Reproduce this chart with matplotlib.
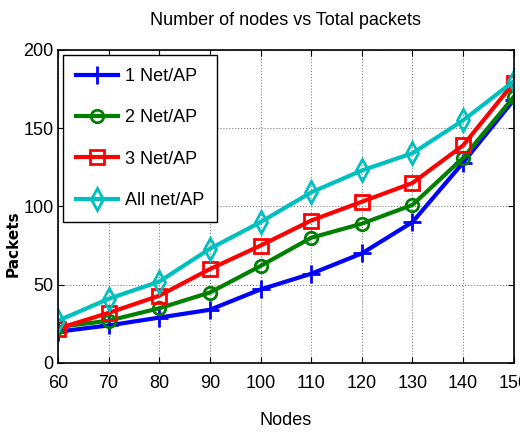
import matplotlib.pyplot as plt

# data
nodes = [60, 70, 80, 90, 100, 110, 120, 130, 140, 150]
net1 = [20, 24, 29, 34, 47, 57, 70, 90, 128, 168]
net2 = [23, 27, 35, 45, 62, 80, 89, 101, 131, 170]
net3 = [22, 32, 43, 60, 75, 91, 103, 115, 139, 179]
net_all = [27, 41, 52, 73, 90, 109, 123, 134, 155, 180]
labels = ['1 Net/AP', '2 Net/AP', '3 Net/AP', 'All net/AP']

plt.rcParams['font.family'] = ['Liberation Sans', 'DejaVu Sans']

fig = plt.figure(figsize=(5.2, 4.34), dpi=100)
ax = fig.add_axes([0.1115, 0.1636, 0.8765, 0.7214])

styles = [('b', '+', 13), ('g', 'o', 9), ('r', 's', 10), ('c', 'd', 11)]
for ys, lab, (col, mk, ms) in zip([net1, net2, net3, net_all], labels, styles):
    ax.plot(nodes, ys, color=col, marker=mk, markersize=ms, markerfacecolor='none',
            markeredgecolor=col, markeredgewidth=2, linewidth=3, label=lab)

ax.set_xlim(60, 150)
ax.set_ylim(0, 200)
ax.set_xticks(nodes)
ax.set_yticks([0, 50, 100, 150, 200])
ax.grid(True, linestyle=':', color='gray', linewidth=0.8)
ax.tick_params(direction='in', top=True, right=True, labelsize=13, length=4)
ax.tick_params(axis='x', pad=9)
ax.tick_params(axis='y', pad=3)
for s in ax.spines.values():
    s.set_linewidth(1.2)

ax.set_title('Number of nodes vs Total packets', fontsize=13, pad=18)
ax.set_xlabel('Nodes', fontsize=13, labelpad=14)
ax.set_ylabel('Packets', fontsize=11, fontweight='bold', family='DejaVu Sans')
ax.yaxis.set_label_coords(-0.083, 0.38)

leg = ax.legend(loc='upper left', fontsize=13, fancybox=False, edgecolor='black',
                framealpha=1, handlelength=2.3, handletextpad=0.4,
                borderaxespad=0.3, labelspacing=1.35, borderpad=0.7)
leg.get_frame().set_linewidth(1.0)

fig.savefig('out.png', dpi=100)
